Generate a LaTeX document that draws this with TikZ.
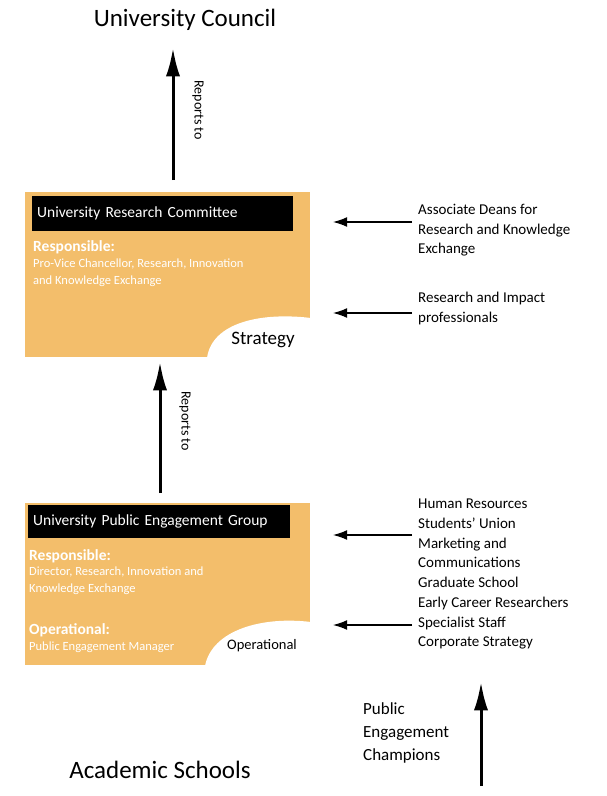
\documentclass[tikz,border=0pt]{standalone}
\usepackage{fontspec}
\setmainfont{Carlito}
\usetikzlibrary{arrows.meta}
\definecolor{panel}{HTML}{F3BE6B}
\tikzset{
  uparrow/.style={line width=3pt, -{Latex[length=10mm,width=5mm]}},
  sidearrow/.style={line width=1.2pt, -{Latex[length=5mm,width=3.5mm]}},
  titlebar/.style={fill=black, text=white, anchor=west, font=\fontsize{15.5}{17}\selectfont, minimum height=35pt, inner xsep=5pt},
  whitetext/.style={text=white, anchor=north west, align=left, inner sep=0pt, font=\fontsize{12.5}{16.5}\selectfont},
  headtext/.style={text=white, anchor=west, inner sep=0pt, font=\bfseries\fontsize{15.5}{17}\selectfont},
  sidetext/.style={anchor=north west, align=left, inner sep=0pt, font=\fontsize{15}{19.7}\selectfont},
}
\begin{document}
\begin{tikzpicture}[x=1pt, y=-1pt]
		\useasboundingbox (0,0) rectangle (607,796);

		%%% Council
		\node (council) at (185,20) {\fontsize{25}{27}\selectfont University Council};
		\coordinate (c1a) at (173,180);
		\coordinate (c1b) at (173,48);
		\draw[uparrow] (c1a) -- (c1b);
		\node[rotate=-90, font=\fontsize{14}{16}\selectfont] (rep1) at (198,110) {Reports to};

		%%% Research committee
		\fill[panel] (25,192) rectangle (310,357);
		\fill[white] (207,358) .. controls (212,322) and (262,312) .. (311,318) -- (311,358) -- cycle;
		\node[titlebar, minimum width=261pt, text width=251pt] (urc) at (32,213) {University Research Committee};
		\node[headtext] (resp1) at (33,247) {Responsible:};
		\node[whitetext] (who1) at (33,259) {Pro-Vice Chancellor, Research, Innovation\\and Knowledge Exchange};
		\node[font=\fontsize{19}{21}\selectfont] (strat) at (263,340) {Strategy};

		\coordinate (c2a) at (160,493);
		\coordinate (c2b) at (160,362);
		\draw[uparrow] (c2a) -- (c2b);
		\node[rotate=-90, font=\fontsize{14}{16}\selectfont] (rep2) at (185,421) {Reports to};

		\node[sidetext] (deans) at (418,204) {Associate Deans for\\Research and Knowledge\\Exchange};
		\node[sidetext] (impact) at (418,292) {Research and Impact\\professionals};
		\coordinate (d1) at (333,222);
		\coordinate (d2) at (333,313);
		\draw[sidearrow] (deans.west |- d1) ++(-6,0) coordinate (e1) (e1) -- (d1);
		\draw[sidearrow] (impact.west |- d2) ++(-6,0) coordinate (e2) (e2) -- (d2);

		%%% Public engagement group
		\fill[panel] (25,503) rectangle (310,665);
		\fill[white] (205,666) .. controls (212,630) and (262,616) .. (311,622) -- (311,666) -- cycle;
		\node[titlebar, minimum width=262pt, text width=252pt, minimum height=33pt] (upeg) at (28,521) {University Public Engagement Group};
		\node[headtext] (resp2) at (29,556) {Responsible:};
		\node[whitetext] (who2) at (29,567) {Director, Research, Innovation and\\Knowledge Exchange};
		\node[headtext] (oper) at (29,630) {Operational:};
		\node[whitetext, anchor=west] (mgr) at (29,647) {Public Engagement Manager};
		\node[font=\fontsize{14.5}{16}\selectfont] (opl) at (262,646) {Operational};

		\node[sidetext] (units) at (418,499) {Human Resources\\Students' Union\\Marketing and\\Communications\\Graduate School\\Early Career Researchers\\Specialist Staff\\Corporate Strategy};
		\coordinate (d3) at (333,535);
		\coordinate (d4) at (333,625);
		\draw[sidearrow] (units.west |- d3) ++(-6,0) coordinate (e3) (e3) -- (d3);
		\draw[sidearrow] (units.west |- d4) ++(-6,0) coordinate (e4) (e4) -- (d4);

		%%% Schools
		\node (schools) at (160,770) {\fontsize{25}{27}\selectfont Academic Schools};
		\node[sidetext, font=\fontsize{17}{23}\selectfont] (champ) at (363,702) {Public\\Engagement\\Champions};
		\coordinate (c3a) at (481,786);
		\coordinate (c3b) at (481,682);
		\draw[uparrow] (c3a) -- (c3b);
\end{tikzpicture}
\end{document}
